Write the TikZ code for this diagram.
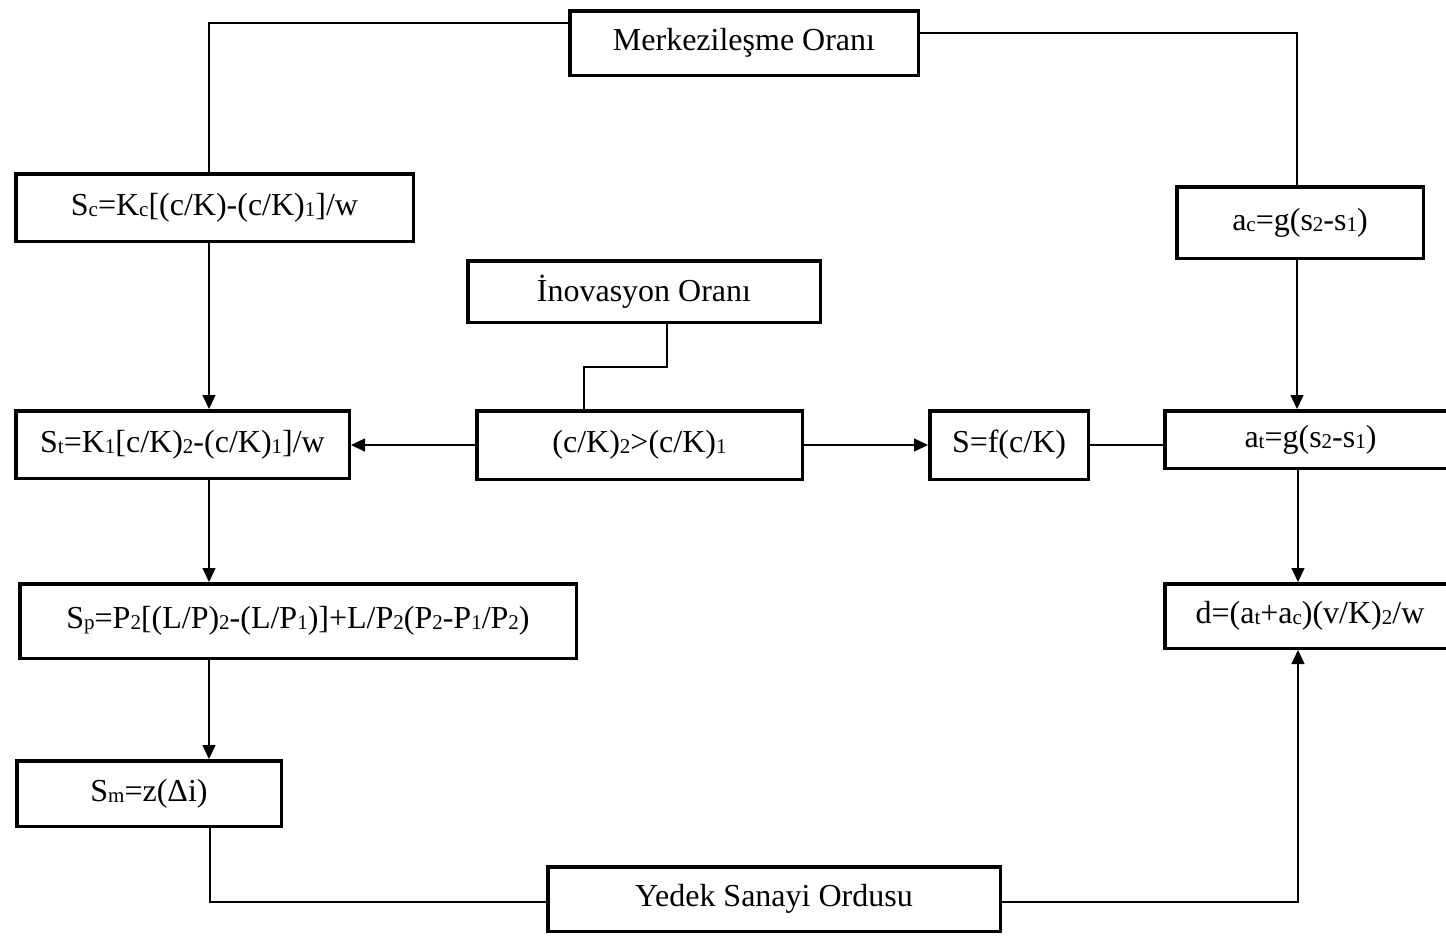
\documentclass[tikz,border=0pt]{standalone}
\usepackage{fontspec}
\setmainfont{Liberation Serif}
\usetikzlibrary{arrows.meta}

% small subscripts sitting near the baseline
\newcommand\sbx[1]{\raisebox{-1pt}{\fontsize{21}{21}\selectfont #1}}

\begin{document}
\begin{tikzpicture}[x=1pt,y=-1pt,
  box/.style={draw,fill=white,line width=3.5pt,rectangle,inner sep=0pt,
    font=\fontsize{32}{34}\selectfont},
  link/.style={line width=1.5pt},
  arr/.style={line width=1.5pt,-{Triangle[length=14pt,width=13pt]}}]
\useasboundingbox (0,0) rectangle (1446,935);
\clip (0,0) rectangle (1446,935);
\fill[white] (0,0) rectangle (1446,935);

% boxes: outer edges given, drawn on the centre line of the border
\newcommand\boxat[6]{%
  \node[box,minimum width={#4-#2-3.5pt},minimum height={#5-#3-3.5pt}]
    (#1) at ({(#2+#4)/2},{(#3+#5)/2}) {#6};}

\boxat{merk}{568}{9}{920}{77}{Merkezileşme Oranı}
\boxat{sc}{14}{172}{415}{243}{S\sbx{c}=K\sbx{c}[(c/K)-(c/K)\sbx{1}]/w}
\boxat{inov}{466}{259}{822}{324}{İnovasyon Oranı}
\boxat{st}{14}{409}{351}{480}{S\sbx{t}=K\sbx{1}[c/K)\sbx{2}-(c/K)\sbx{1}]/w}
\boxat{ck}{475}{409}{804}{481}{(c/K)\sbx{2}>(c/K)\sbx{1}}
\boxat{sf}{928}{409}{1090}{481}{S=f(c/K)}
\boxat{ac}{1175}{185}{1425}{260}{a\sbx{c}=g(s\sbx{2}-s\sbx{1})}
\boxat{at}{1163}{409}{1458}{470}{a\sbx{t}=g(s\sbx{2}-s\sbx{1})}
\boxat{sp}{18}{582}{578}{660}{S\sbx{p}=P\sbx{2}[(L/P)\sbx{2}-(L/P\sbx{1})]+L/P\sbx{2}(P\sbx{2}-P\sbx{1}/P\sbx{2})}
\boxat{dd}{1163}{582}{1457}{650}{d=(a\sbx{t}+a\sbx{c})(v/K)\sbx{2}/w}
\boxat{sm}{15}{759}{283}{828}{S\sbx{m}=z(Δi)}
\boxat{yedek}{546}{865}{1002}{933}{Yedek Sanayi Ordusu}

% connectors
\coordinate (tl) at (209,23);
\coordinate (tr) at (1297,33);
\coordinate (i1) at (667,367);
\coordinate (i2) at (584,367);
\coordinate (bl) at (210,902);
\coordinate (br) at (1298,902);

\draw[link] (merk.west |- tl) -| (sc.north -| tl);
\draw[link] (merk.east |- tr) -| (ac.north -| tr);
\draw[arr] (sc.south -| tl) -- (st.north -| tl);
\draw[link] (inov.south -| i1) -- (i1) -- (i2) -- (ck.north -| i2);
\draw[arr] (ck.west) -- (st.east |- ck.west);
\draw[arr] (ck.east) -- (sf.west);
\draw[link] (sf.east) -- (at.west |- sf.east);
\draw[arr] (ac.south -| tr) -- (at.north -| tr);
\draw[arr] (at.south -| br) -- (dd.north -| br);
\draw[arr] (st.south -| tl) -- (sp.north -| tl);
\draw[arr] (sp.south -| tl) -- (sm.north -| tl);
\draw[link] (sm.south -| bl) -- (bl) -- (yedek.west |- bl);
\draw[arr] (yedek.east |- br) -- (br) -- (dd.south -| br);
\end{tikzpicture}
\end{document}
